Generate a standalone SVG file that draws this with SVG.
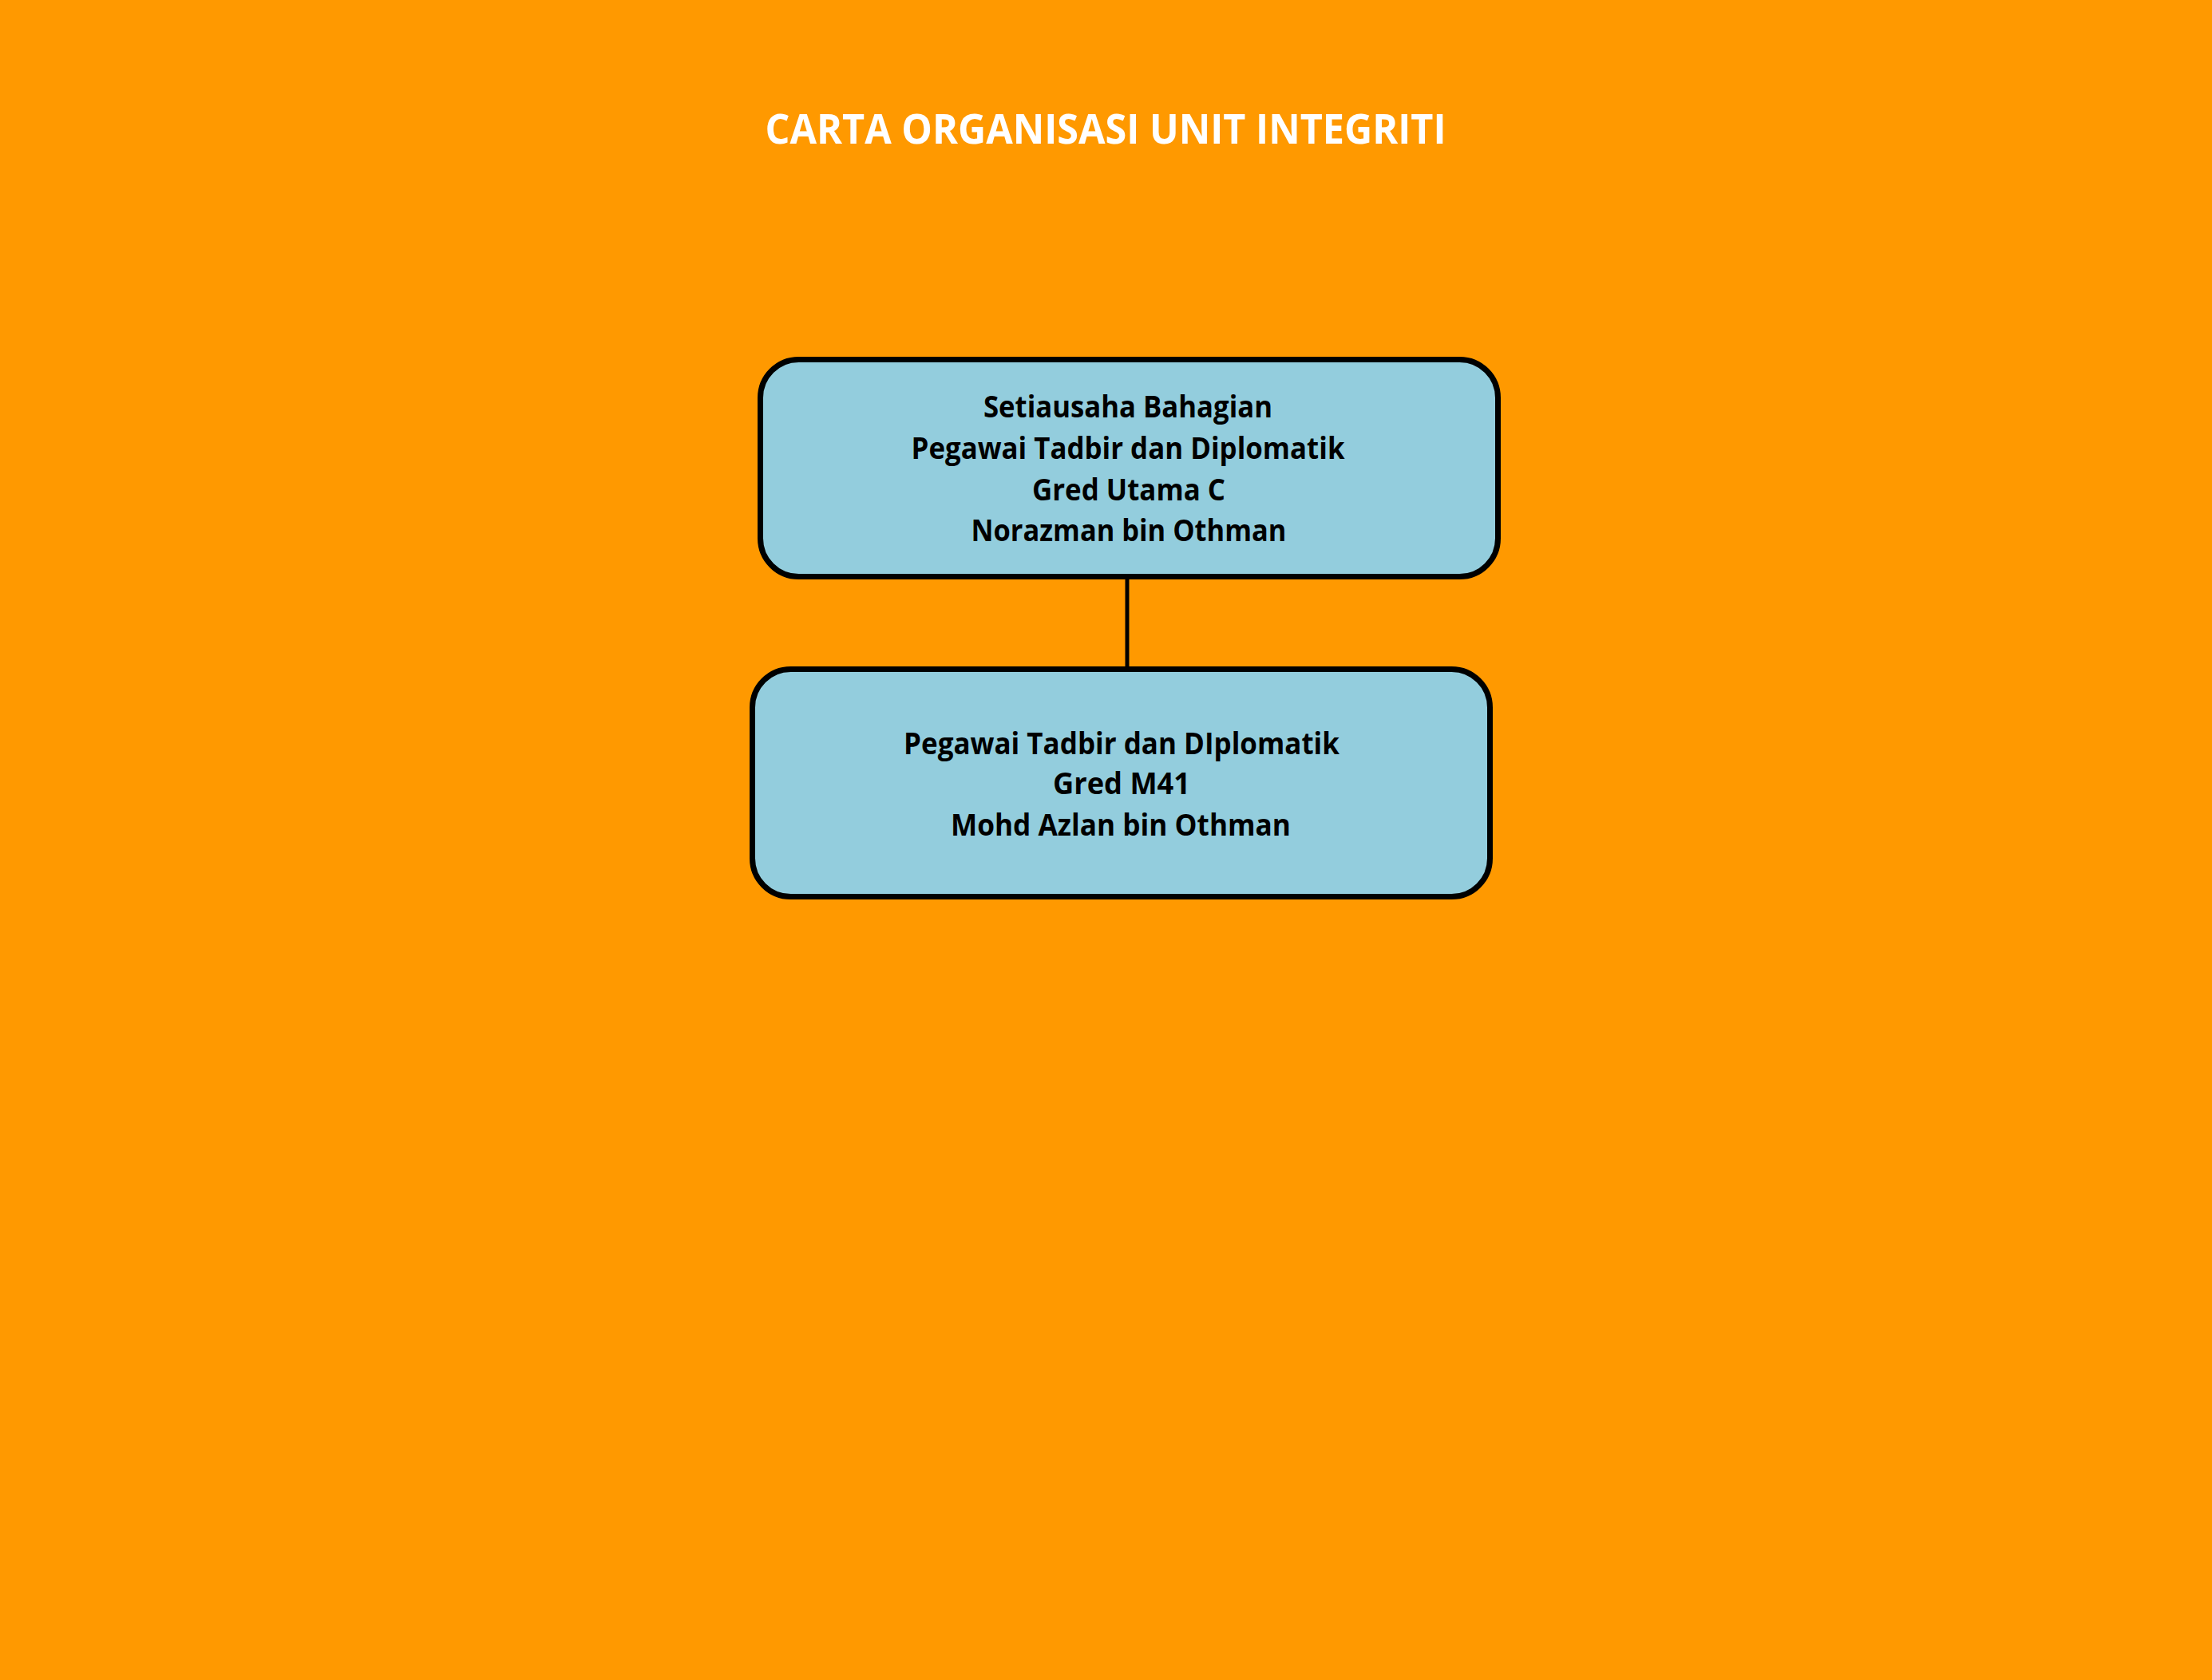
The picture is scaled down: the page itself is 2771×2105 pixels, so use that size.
<svg xmlns="http://www.w3.org/2000/svg" width="2771" height="2105" viewBox="0 0 2771 2105">
<style>
.box{fill:#93CDDD;stroke:#000;stroke-width:7}
.t{font-family:"Open Sans","Liberation Sans",sans-serif;font-weight:bold;font-size:37px;fill:#000;text-anchor:middle}
.title{font-family:"Open Sans","Liberation Sans",sans-serif;font-weight:bold;font-size:52px;fill:#fff;text-anchor:middle}
.conn{stroke:#000;stroke-width:5;fill:none}
</style>
<rect width="2771" height="2105" fill="#FF9900"/>
<text class="title" x="1385" y="180" textLength="853" lengthAdjust="spacingAndGlyphs">CARTA ORGANISASI UNIT INTEGRITI</text>
<g id="connectors">
<line class="conn" x1="1412" y1="724" x2="1412" y2="836"/>
</g>
<g id="node1">
<rect class="box" x="952.5" y="450.5" width="924" height="272" rx="48" ry="48"/>
<text class="t" x="1413" y="523" textLength="362" lengthAdjust="spacingAndGlyphs">Setiausaha Bahagian</text>
<text class="t" x="1413" y="575" textLength="543" lengthAdjust="spacingAndGlyphs">Pegawai Tadbir dan Diplomatik</text>
<text class="t" x="1414" y="627" textLength="242" lengthAdjust="spacingAndGlyphs">Gred Utama C</text>
<text class="t" x="1414" y="678" textLength="395" lengthAdjust="spacingAndGlyphs">Norazman bin Othman</text>
</g>
<g id="node2">
<rect class="box" x="942.5" y="838.5" width="924" height="285" rx="48" ry="48"/>
<text class="t" x="1405" y="945" textLength="546" lengthAdjust="spacingAndGlyphs">Pegawai Tadbir dan DIplomatik</text>
<text class="t" x="1405" y="995" textLength="172" lengthAdjust="spacingAndGlyphs">Gred M41</text>
<text class="t" x="1404" y="1047" textLength="426" lengthAdjust="spacingAndGlyphs">Mohd Azlan bin Othman</text>
</g>
</svg>
